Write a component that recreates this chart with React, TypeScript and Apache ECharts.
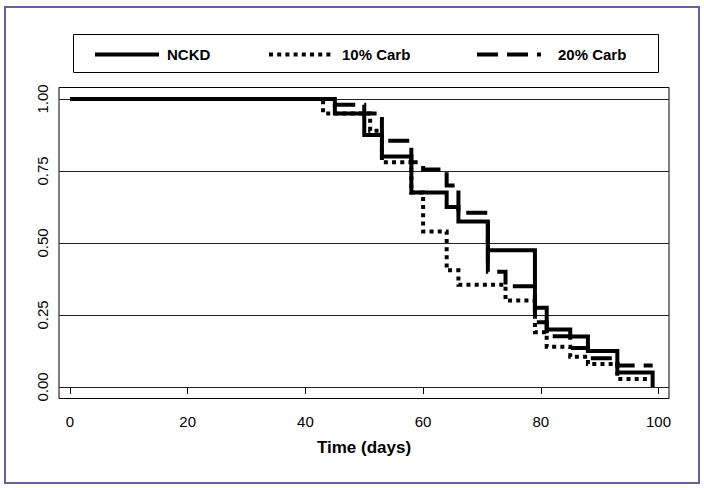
import React, { useEffect, useRef } from "react";
import * as echarts from "echarts";

// Kaplan–Meier step data (time in days, survival proportion)
const nckdTime = [0, 45, 50, 53, 58, 64, 66, 71, 79, 81, 85, 88, 93, 99];
const nckdSurv = [1, 0.95, 0.875, 0.8, 0.675, 0.625, 0.575, 0.475, 0.275, 0.2, 0.175, 0.125, 0.05, 0];

const carb10Time = [0, 43, 51, 53, 58, 60, 64, 66, 74, 79, 81, 85, 88, 93, 99];
const carb10Surv = [1, 0.95, 0.89, 0.78, 0.675, 0.54, 0.405, 0.355, 0.3, 0.19, 0.14, 0.105, 0.08, 0.028, 0.028];

const carb20Time = [0, 45, 50, 53, 58, 60, 64, 66, 71, 74, 79, 81, 85, 88, 93, 99];
const carb20Surv = [1, 0.98, 0.95, 0.855, 0.78, 0.755, 0.7, 0.605, 0.4, 0.35, 0.225, 0.176, 0.135, 0.1, 0.075, 0.075];

// censoring marks
const censorTime = [71];
const censorSurv = [0.475];

const seriesNames = ["NCKD", "10% Carb", "20% Carb"];
const xTicks = [0, 20, 40, 60, 80, 100];
const yTicks = [0, 0.25, 0.5, 0.75, 1];
const xTitle = "Time (days)";

const FONT = "'Liberation Sans', Arial, Helvetica, sans-serif";

const pairs = (t: number[], s: number[]) => t.map((v, i) => [v, s[i]]);

export default function App() {
  const ref = useRef<HTMLDivElement>(null);
  useEffect(() => {
    if (!ref.current) return;
    const chart = echarts.init(ref.current, undefined, { renderer: "svg" });
    const lineBase = {
      type: "line",
      step: "end",
      symbol: "none",
      color: "#000",
      z: 3,
    };
    const dashTypes: any[] = ["solid", [4, 4.2], [21, 9]];
    const legendLeft = [93, 267, 475];
    const legendTextPad = [3, 4, 12];
    const option: any = {
      animation: false,
      backgroundColor: "#fff",
      grid: {
        left: 59,
        top: 87.5,
        width: 610,
        height: 311,
        show: true,
        borderColor: "#000",
        borderWidth: 1,
        backgroundColor: "transparent",
      },
      xAxis: {
        type: "value",
        min: -1.87,
        max: 101.78,
        axisLine: { show: false },
        splitLine: { show: false },
        axisTick: { show: true, customValues: xTicks, length: 7, lineStyle: { color: "#000", width: 1 } },
        axisLabel: { customValues: xTicks, margin: 15, fontSize: 15, color: "#000", fontFamily: FONT },
        name: xTitle,
        nameLocation: "middle",
        nameGap: 40,
        nameTextStyle: { fontSize: 17, fontWeight: "bold", color: "#000", fontFamily: FONT },
      },
      yAxis: {
        type: "value",
        min: -0.04,
        max: 1.04,
        axisLine: { show: false },
        splitLine: { show: false },
        axisTick: { show: true, customValues: yTicks, length: 7, lineStyle: { color: "#000", width: 1 } },
        axisLabel: {
          customValues: yTicks,
          rotate: 90,
          margin: 9,
          fontSize: 15,
          color: "#000",
          fontFamily: FONT,
          formatter: (v: number) => Number(v).toFixed(2),
        },
      },
      legend: seriesNames.map((n, i) => ({
        data: [n],
        left: legendLeft[i],
        top: 47,
        padding: 0,
        itemWidth: 64,
        itemHeight: 16,
        itemStyle: { opacity: 0 },
        lineStyle: { width: 4, color: "#000", type: dashTypes[i], cap: "butt" },
        textStyle: {
          fontSize: 15,
          fontWeight: "bold",
          color: "#000",
          fontFamily: FONT,
          padding: [0, 0, 0, legendTextPad[i]],
        },
      })),
      graphic: [
        {
          type: "rect",
          silent: true,
          shape: { x: 5, y: 7, width: 694, height: 476 },
          style: { fill: "none", stroke: "#6b5ba9", lineWidth: 2 },
        },
        {
          type: "rect",
          silent: true,
          shape: { x: 73.5, y: 34.5, width: 585, height: 38 },
          style: { fill: "none", stroke: "#000", lineWidth: 1 },
        },
      ],
      series: [
        {
          ...lineBase,
          name: "10% Carb",
          data: pairs(carb10Time, carb10Surv),
          lineStyle: { color: "#000", width: 4, type: dashTypes[1], cap: "butt", join: "miter" },
        },
        {
          ...lineBase,
          name: "20% Carb",
          data: pairs(carb20Time, carb20Surv),
          lineStyle: { color: "#000", width: 4, type: dashTypes[2], cap: "butt", join: "miter" },
        },
        {
          ...lineBase,
          name: "NCKD",
          data: pairs(nckdTime, nckdSurv),
          lineStyle: { color: "#000", width: 4, type: dashTypes[0], cap: "butt", join: "miter" },
          markLine: {
            silent: true,
            z: 1,
            symbol: "none",
            label: { show: false },
            lineStyle: { color: "#222", width: 1, type: "solid" },
            data: yTicks.map((v) => ({ yAxis: v })),
          },
        },
        {
          type: "scatter",
          name: "censor",
          symbol: "rect",
          symbolSize: [4, 24],
          itemStyle: { color: "#000" },
          z: 4,
          data: pairs(censorTime, censorSurv),
        },
      ],
    };
    chart.setOption(option);
    return () => chart.dispose();
  }, []);
  return (
    <div
      ref={ref}
      style={{ position: "absolute", left: 0, top: 0, width: 704, height: 490, background: "#fff" }}
    />
  );
}
